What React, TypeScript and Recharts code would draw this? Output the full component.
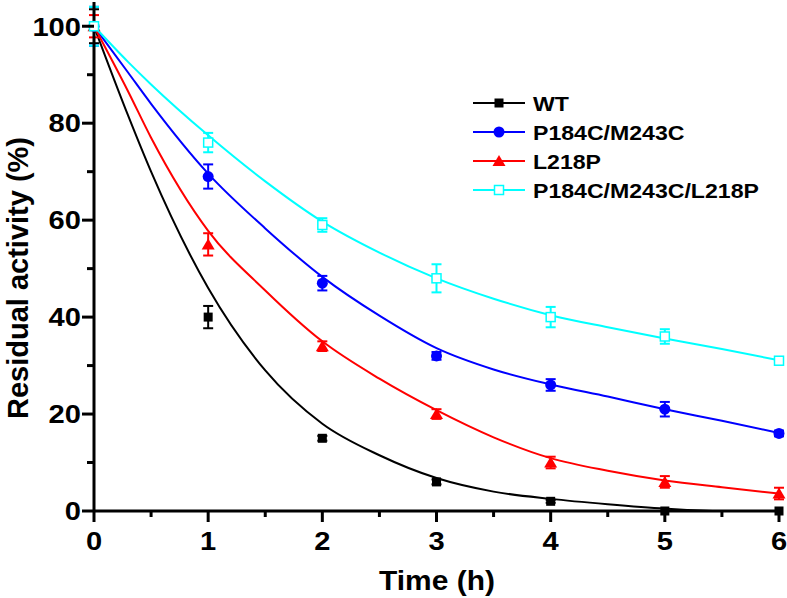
import { ComposedChart, Line, Scatter, XAxis, YAxis, ErrorBar } from 'recharts';

// measured points (mean ± error)
const hours = [0, 1, 2, 3, 4, 5, 6];
const wtMean = [100, 40, 15, 6, 2, 0, 0];
const wtErr = [3.5, 2.3, 0.5, 0.5, 0.3, 0, 0];
const dmMean = [100, 69, 47, 32, 26, 21, 16];
const dmErr = [4, 2.5, 1.5, 0.8, 1.2, 1.5, 0.6];
const l218pMean = [100, 55, 34, 20, 10, 6, 3.6];
const l218pErr = [2.3, 2.3, 1, 1, 1.2, 1.2, 1.2];
const tripleMean = [100, 76, 59, 48, 40, 36, 31];
const tripleErr = [4, 2, 1.4, 2.9, 2.1, 1.5, 0.7];

// fitted curves
const fitHours = [0, 0.3, 0.5, 1, 1.5, 2, 2.5, 3, 3.5, 4, 4.5, 5, 5.5, 6];
const wtFit = [100, 81.5, 70, 46, 29, 18, 11.5, 6.8, 4, 2.5, 1.4, 0.5, 0, 0];
const l218pFit = [100, 86.5, 77, 57.8, 45.5, 35, 27.3, 20.8, 15.2, 10.9, 8.3, 6.3, 4.9, 3.6];
const dmFit = [100, 90.4, 84, 69.6, 58.3, 48.3, 40.3, 33.6, 29.2, 26.1, 23.6, 21, 18.6, 16.1];
const tripleFit = [100, 92.6, 88, 77.5, 68, 59.7, 53.3, 48, 43.8, 40.4, 37.9, 35.6, 33.4, 31.1];

const xTicks = [0, 0.5, 1, 1.5, 2, 2.5, 3, 3.5, 4, 4.5, 5, 5.5, 6];
const yTicks = [0, 10, 20, 30, 40, 50, 60, 70, 80, 90, 100];

const FONT = "Arial, 'Liberation Sans', sans-serif";

const series = [
  { name: 'WT', color: '#000000', shape: 'square', mean: wtMean, err: wtErr, fit: wtFit },
  { name: 'P184C/M243C', color: '#0000ff', shape: 'circle', mean: dmMean, err: dmErr, fit: dmFit },
  { name: 'L218P', color: '#ff0000', shape: 'triangle', mean: l218pMean, err: l218pErr, fit: l218pFit },
  { name: 'P184C/M243C/L218P', color: '#00ffff', shape: 'open', mean: tripleMean, err: tripleErr, fit: tripleFit },
];

function Marker({ cx, cy, kind, color }: { cx: number; cy: number; kind: string; color: string }) {
  if (kind === 'square') return <rect x={cx - 4.5} y={cy - 4.5} width={9} height={9} fill={color} />;
  if (kind === 'circle') return <circle cx={cx} cy={cy} r={5.5} fill={color} />;
  if (kind === 'triangle')
    return <polygon points={`${cx},${cy - 6} ${cx + 6.5},${cy + 5} ${cx - 6.5},${cy + 5}`} fill={color} />;
  return <rect x={cx - 4.5} y={cy - 4.5} width={9} height={9} fill="#fff" stroke={color} strokeWidth={1.5} />;
}

function XTick({ x, y, payload }: any) {
  const major = Number.isInteger(payload.value);
  return (
    <g>
      <line x1={x} x2={x} y1={y} y2={y + (major ? 11 : 6)} stroke="#000" strokeWidth={3} />
      {major && (
        <text
          transform={`translate(${x},${y + 39}) scale(1.12,1)`}
          textAnchor="middle"
          fontFamily={FONT}
          fontWeight="bold"
          fontSize={26}
          fill="#000"
        >
          {payload.value}
        </text>
      )}
    </g>
  );
}

function YTick({ x, y, payload }: any) {
  const major = payload.value % 20 === 0;
  return (
    <g>
      <line x1={x} x2={x - (major ? 12 : 7)} y1={y} y2={y} stroke="#000" strokeWidth={3} />
      {major && (
        <text
          transform={`translate(${x - 13},${y + 9.3}) scale(1.12,1)`}
          textAnchor="end"
          fontFamily={FONT}
          fontWeight="bold"
          fontSize={26}
          fill="#000"
        >
          {payload.value}
        </text>
      )}
    </g>
  );
}

export default function App() {
  const legendRows = [103, 132, 161, 190];

  return (
    <div style={{ position: 'absolute', left: 0, top: 0, width: 787, height: 598, background: '#fff' }}>
      <ComposedChart width={787} height={598} margin={{ top: 2, right: 8, bottom: 27, left: 0 }}>
        <XAxis
          type="number"
          dataKey="x"
          domain={[0, 6]}
          ticks={xTicks}
          interval={0}
          height={60}
          tickSize={0}
          tickMargin={0}
          tickLine={false}
          tick={<XTick />}
          axisLine={{ stroke: '#000', strokeWidth: 3 }}
          allowDuplicatedCategory={false}
        />
        <YAxis
          type="number"
          domain={[0, 105]}
          ticks={yTicks}
          interval={0}
          width={94}
          tickSize={0}
          tickMargin={0}
          tickLine={false}
          tick={<YTick />}
          axisLine={{ stroke: '#000', strokeWidth: 3 }}
        />
        {series.map((s) => (
          <Line
            key={`fit-${s.name}`}
            data={fitHours.map((x, i) => ({ x, y: s.fit[i] }))}
            dataKey="y"
            type="monotone"
            stroke={s.color}
            strokeWidth={2}
            dot={false}
            activeDot={false}
            isAnimationActive={false}
          />
        ))}
        {series.map((s) => (
          <Scatter
            key={`pts-${s.name}`}
            data={hours.map((x, i) => ({ x, y: s.mean[i], err: s.err[i] }))}
            dataKey="y"
            isAnimationActive={false}
            shape={(p: any) => <Marker cx={p.cx} cy={p.cy} kind={s.shape} color={s.color} />}
          >
            <ErrorBar dataKey="err" direction="y" width={5} stroke={s.color} strokeWidth={2} />
          </Scatter>
        ))}
      </ComposedChart>

      <svg width={787} height={598} style={{ position: 'absolute', left: 0, top: 0, pointerEvents: 'none' }}>
        {series.map((s, i) => (
          <g key={s.name}>
            <line x1={473} x2={525} y1={legendRows[i]} y2={legendRows[i]} stroke={s.color} strokeWidth={2} />
            <Marker cx={499} cy={legendRows[i]} kind={s.shape} color={s.color} />
            <text
              transform={`translate(533,${legendRows[i] + 7.5}) scale(1.1,1)`}
              fontFamily={FONT}
              fontWeight="bold"
              fontSize={21}
              fill="#000"
            >
              {s.name}
            </text>
          </g>
        ))}
        <text
          transform="translate(437,590) scale(1.07,1)"
          textAnchor="middle"
          fontFamily={FONT}
          fontWeight="bold"
          fontSize={28}
          fill="#000"
        >
          Time (h)
        </text>
        <text
          transform="translate(28,278) rotate(-90)"
          textAnchor="middle"
          fontFamily={FONT}
          fontWeight="bold"
          fontSize={29}
          fill="#000"
        >
          Residual activity (%)
        </text>
      </svg>
    </div>
  );
}
